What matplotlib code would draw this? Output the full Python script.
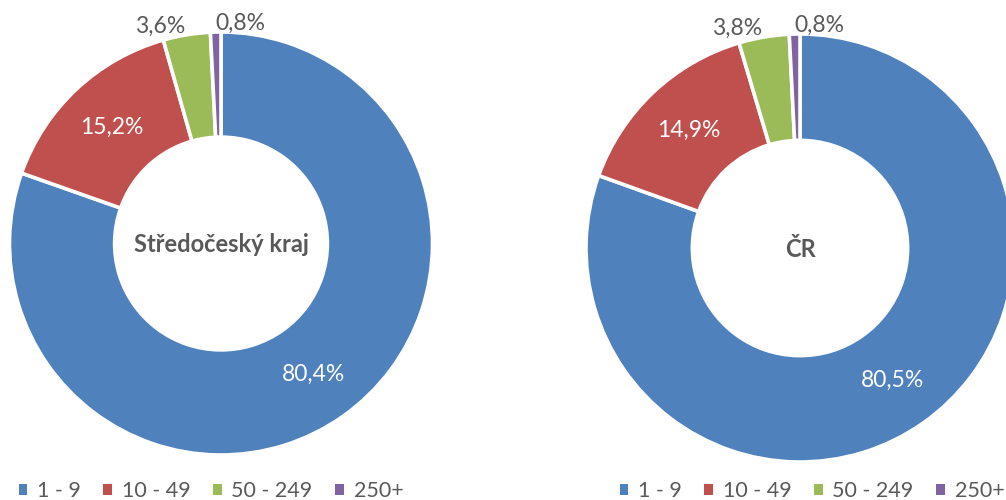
import numpy as np
import matplotlib
matplotlib.use("Agg")
import matplotlib.pyplot as plt
from matplotlib.patches import Patch

plt.rcParams['font.family'] = ['Lato', 'DejaVu Sans']

categories = ["1 - 9", "10 - 49", "50 - 249", "250+"]
kraj_values = [80.4, 15.2, 3.6, 0.8]
cr_values = [80.5, 14.9, 3.8, 0.8]
kraj_title = "Středočeský kraj"
cr_title = "ČR"

colors = ["#4F81BD", "#C0504D", "#9BBB59", "#8064A2"]
text_gray = "#595959"

W, H = 1006, 500
fig = plt.figure(figsize=(W / 100, H / 100), dpi=100)


def donut(cx, cy, r, values, title, legend_cx):
    # axes square in pixels, centred on the donut, limits -1..1
    ax = fig.add_axes([(cx - r) / W, (H - cy - r) / H, 2 * r / W, 2 * r / H])
    wedges, _ = ax.pie(values, colors=colors, startangle=90, counterclock=False,
                       radius=1.0,
                       wedgeprops=dict(width=0.497, edgecolor="white", linewidth=2.6))
    ax.set_xlim(-1, 1)
    ax.set_ylim(-1, 1)
    ax.set_aspect("auto")
    ax.axis("off")

    for i, (w, v) in enumerate(zip(wedges, values)):
        mid = np.deg2rad((w.theta1 + w.theta2) / 2)
        lab = f"{v:.1f}%".replace(".", ",")
        if v > 10:
            d = 0.755
            ax.text(d * np.cos(mid), d * np.sin(mid), lab, color="white",
                    fontsize=16.5, ha="center", va="center")
        else:
            d = 1.04
            ha = "right" if i == 2 else "left"
            ax.text(d * np.cos(mid), d * np.sin(mid), lab, color=text_gray,
                    fontsize=16.5, ha=ha, va="center", clip_on=False)

    ax.text(0, -0.005, title, color=text_gray, fontsize=17, fontweight="bold",
            ha="center", va="center")

    handles = [Patch(facecolor=c, edgecolor="none") for c in colors]
    fig.legend(handles, categories, loc="center",
               bbox_to_anchor=(legend_cx / W, (H - 491) / H),
               ncol=4, frameon=False, fontsize=15.5, labelcolor=text_gray,
               handlelength=0.4, handleheight=0.4, handletextpad=0.45,
               columnspacing=1.05, borderpad=0, borderaxespad=0)


donut(221, 243.5, 211.5, kraj_values, kraj_title, 211)
donut(800, 248, 214, cr_values, cr_title, 812)

fig.savefig("out.png", dpi=100)
